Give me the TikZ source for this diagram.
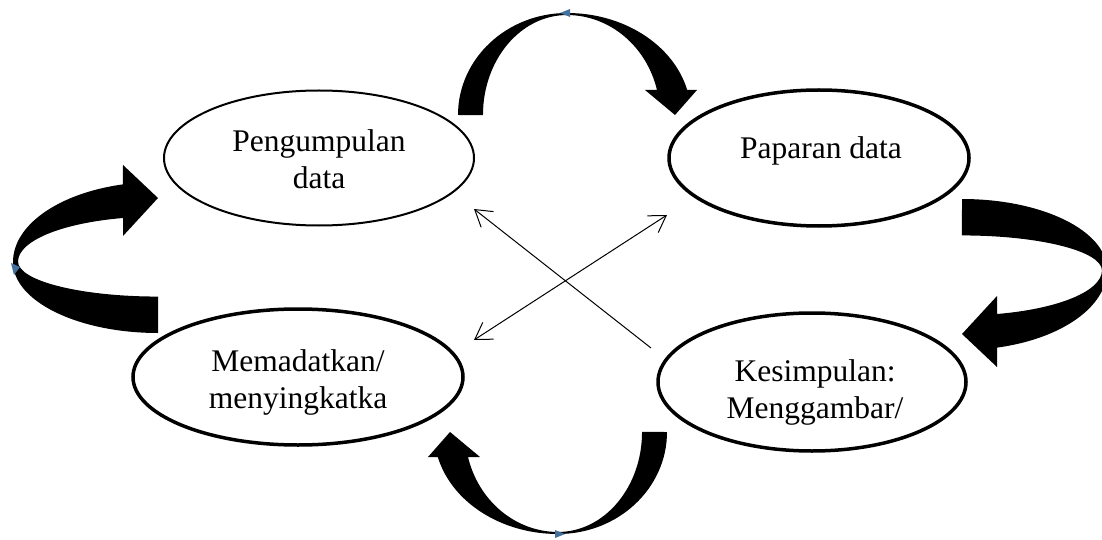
\documentclass[tikz,border=0pt]{standalone}
\usepackage{fontspec}
\setmainfont{Liberation Serif}
\usetikzlibrary{shapes.geometric,arrows.meta}
\definecolor{tricol}{HTML}{41719C}
\begin{document}
\begin{tikzpicture}[x=1pt,y=-1pt,
  ell/.style={draw=black, ellipse, inner sep=0pt},
  lbl/.style={font=\fontsize{31.5}{37}\selectfont, align=center, inner sep=0pt},
  blk/.style={fill=black, draw=none},
  tri/.style={fill=tricol, draw=none},
  thinarr/.style={line width=1pt, -{Straight Barb[length=16pt,width=20pt]}},
  thinarrb/.style={line width=1pt, {Straight Barb[length=16pt,width=20pt]}-{Straight Barb[length=16pt,width=20pt]}}
]
\useasboundingbox (0,0) rectangle (1102,540);
\clip (0,0) rectangle (1102,540);

% ellipses
\node[ell, line width=2pt, minimum width=310pt, minimum height=135pt] (e1) at (319,158) {};
\node[ell, line width=3.5pt, minimum width=300pt, minimum height=136pt] (e2) at (819,158) {};
\node[ell, line width=3.5pt, minimum width=330pt, minimum height=136pt] (e3) at (298,377) {};
\node[ell, line width=3.5pt, minimum width=308pt, minimum height=138pt] (e4) at (812,382) {};

% labels
\node[lbl] (t1) at (319,159.3) {Pengumpulan\\data};
\node[lbl] (t2) at (821,150.7) {Paparan data};
\node[lbl] (t3) at (298,382.7) {Memadatkan/\\menyingkatka};
\node[lbl] (t4) at (815,392.1) {Kesimpulan:\\Menggambar/};

% top curved arrow
\path[blk] (458,115) arc[start angle=180,end angle=90,x radius=109pt,y radius=102pt]
  arc[start angle=90,end angle=14.2,x radius=124pt,y radius=102pt]
  -- (697,90) -- (675,115) -- (645,90) -- (657,90)
  arc[start angle=14.5,end angle=90,x radius=93pt,y radius=100pt]
  arc[start angle=90,end angle=180,x radius=84pt,y radius=100pt]
  -- cycle;
\path[tri] (560,13) -- (570,9) -- (570,17) -- cycle;

% bottom curved arrow (top one turned half round)
\begin{scope}[rotate around={180:(562.5,273.5)}]
\path[blk] (458,115) arc[start angle=180,end angle=90,x radius=109pt,y radius=102pt]
  arc[start angle=90,end angle=14.2,x radius=124pt,y radius=102pt]
  -- (697,90) -- (675,115) -- (645,90) -- (657,90)
  arc[start angle=14.5,end angle=90,x radius=93pt,y radius=100pt]
  arc[start angle=90,end angle=180,x radius=84pt,y radius=100pt]
  -- cycle;
\path[tri] (560,13) -- (570,9) -- (570,17) -- cycle;
\end{scope}

% left curved arrow
\path[blk] (13,262) arc[start angle=180,end angle=104,x radius=145pt,y radius=80pt]
  -- (123,165) -- (158,198) -- (123,236) -- (123,218)
  arc[start angle=104.5,end angle=180,x radius=140pt,y radius=45pt]
  arc[start angle=180,end angle=270,x radius=140pt,y radius=35pt]
  -- (158,333)
  arc[start angle=270,end angle=180,x radius=145pt,y radius=71pt]
  -- cycle;
\path[tri] (11,263) -- (20,267) -- (14,275) -- cycle;

% right curved arrow (left one turned half round)
\begin{scope}[rotate around={180:(560,266)}]
\path[blk] (13,262) arc[start angle=180,end angle=104,x radius=145pt,y radius=80pt]
  -- (123,165) -- (158,198) -- (123,236) -- (123,218)
  arc[start angle=104.5,end angle=180,x radius=140pt,y radius=45pt]
  arc[start angle=180,end angle=270,x radius=140pt,y radius=35pt]
  -- (158,333)
  arc[start angle=270,end angle=180,x radius=145pt,y radius=71pt]
  -- cycle;
\end{scope}

% thin crossing arrows
\coordinate (a1) at (651,348);
\coordinate (a2) at (474,209);
\coordinate (b1) at (474,340);
\coordinate (b2) at (667,215);
\draw[thinarr] (a1) -- (a2);
\draw[thinarrb] (b1) -- (b2);
\end{tikzpicture}
\end{document}
